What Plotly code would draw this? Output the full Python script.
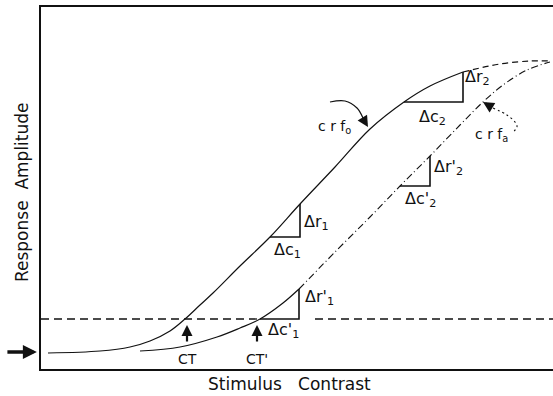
import plotly.graph_objects as go

# ---- data (arbitrary contrast / response units) ----
contrast_o = [7, 59, 89, 109, 129, 144, 159, 172, 199, 229, 259, 294, 329, 363, 389, 422, 459, 489, 509]
response_o = [16, 18, 22, 28, 38, 50, 64, 76, 103, 132, 165, 202, 240, 267, 283, 297, 305, 308, 308]
contrast_a = [99, 139, 176, 199, 219, 242, 258, 296, 329, 359, 389, 419, 442, 462, 486, 509]
response_a = [18, 22, 32, 41, 50, 66, 80, 119, 152, 183, 213, 244, 267, 284, 299, 307]
threshold = 50
baseline = 17
ct_values = [146, 216]
ct_labels = ["CT", "CT'"]

# increment triangles: start contrast, end contrast, start response, end response
tri_c0 = [229, 363, 219, 359]
tri_c1 = [259, 422, 258, 389]
tri_r0 = [132, 267, 50, 183]
tri_r1 = [165, 297, 80, 213]
dc_labels = ["Δc<sub>1</sub>", "Δc<sub>2</sub>", "Δc'<sub>1</sub>", "Δc'<sub>2</sub>"]
dr_labels = ["Δr<sub>1</sub>", "Δr<sub>2</sub>", "Δr'<sub>1</sub>", "Δr'<sub>2</sub>"]
dc_pos = [(246, 119), (391, 252), (242, 39), (379, 170)]
dr_pos = [(275, 147), (436, 292), (278, 72), (407, 202)]

FONT = "DejaVu Sans"
INK = "#111111"

fig = go.Figure()

# crf_o : solid lower part, dashed top
split_o = 16
fig.add_trace(go.Scatter(x=contrast_o[:split_o], y=response_o[:split_o], mode="lines",
                         line=dict(color=INK, width=1.2, shape="spline"), hoverinfo="skip"))
fig.add_trace(go.Scatter(x=contrast_o[split_o - 1:], y=response_o[split_o - 1:], mode="lines",
                         line=dict(color=INK, width=1.2, shape="spline", dash="6px,4px"), hoverinfo="skip"))
# crf_a : solid lower part, dash-dot upper part
split_a = 7
fig.add_trace(go.Scatter(x=contrast_a[:split_a], y=response_a[:split_a], mode="lines",
                         line=dict(color=INK, width=1.2, shape="spline"), hoverinfo="skip"))
fig.add_trace(go.Scatter(x=contrast_a[split_a - 1:], y=response_a[split_a - 1:], mode="lines",
                         line=dict(color=INK, width=1.1, shape="spline", dash="7px,3px,1px,3px"),
                         hoverinfo="skip"))

# threshold dashed line (interrupted by the Δc'1 triangle)
fig.add_trace(go.Scatter(x=[0, tri_c0[2], None, tri_c1[2] + 16, 512],
                         y=[threshold, threshold, None, threshold, threshold], mode="lines",
                         line=dict(color=INK, width=1.3, dash="8px,5px"), hoverinfo="skip"))

# triangles
for c0, c1, r0, r1 in zip(tri_c0, tri_c1, tri_r0, tri_r1):
    fig.add_trace(go.Scatter(x=[c0, c1, c1], y=[r0, r0, r1], mode="lines",
                             line=dict(color=INK, width=1.6), hoverinfo="skip"))

annotations = []
for (x, y), t in zip(dc_pos, dc_labels):
    annotations.append(dict(x=x, y=y, text=t, showarrow=False, font=dict(family=FONT, size=16, color=INK)))
for (x, y), t in zip(dr_pos, dr_labels):
    annotations.append(dict(x=x, y=y, text=t, showarrow=False, font=dict(family=FONT, size=16, color=INK)))

# CT arrows and labels
for c, lab in zip(ct_values, ct_labels):
    annotations.append(dict(x=c, y=threshold - 6, ax=c, ay=threshold - 24, axref="x", ayref="y",
                            showarrow=True, arrowhead=2, arrowsize=1, arrowwidth=2.2, arrowcolor=INK, text=""))
    annotations.append(dict(x=c, y=10, text=lab, showarrow=False, font=dict(family=FONT, size=14, color=INK)))

# baseline arrow on the left (outside the plotting area)
annotations.append(dict(xref="paper", x=-0.008, y=baseline, ax=-31, ay=0, showarrow=True,
                        arrowhead=2, arrowsize=0.8, arrowwidth=3.5, arrowcolor=INK, text=""))

# crf_o label with curved pointer
fig.add_trace(go.Scatter(x=[289, 304, 316, 322], y=[267, 268, 261, 251], mode="lines",
                         line=dict(color=INK, width=1.2, shape="spline"), hoverinfo="skip"))
annotations.append(dict(x=327, y=242, ax=321, ay=252, axref="x", ayref="y", showarrow=True,
                        arrowhead=2, arrowsize=1, arrowwidth=2.2, arrowcolor=INK, text=""))
annotations.append(dict(x=293, y=242, text="c r f<sub>o</sub>", showarrow=False,
                        font=dict(family=FONT, size=14, color=INK)))

# crf_a label with dotted pointer
fig.add_trace(go.Scatter(x=[452, 466, 474, 476, 471], y=[261, 254, 247, 242, 236], mode="lines",
                         line=dict(color=INK, width=1.1, shape="spline", dash="2px,3px"), hoverinfo="skip"))
annotations.append(dict(x=442, y=267, ax=452, ay=261, axref="x", ayref="y", showarrow=True,
                        arrowhead=2, arrowsize=1, arrowwidth=2.2, arrowcolor=INK, text=""))
annotations.append(dict(x=450, y=234, text="c r f<sub>a</sub>", showarrow=False,
                        font=dict(family=FONT, size=14, color=INK)))

# axis titles
annotations.append(dict(xref="paper", yref="paper", x=0.486, y=-0.041, text="Stimulus   Contrast",
                        showarrow=False, yanchor="middle", font=dict(family=FONT, size=17, color=INK)))
annotations.append(dict(xref="paper", yref="paper", x=-0.037, y=0.489, text="Response  Amplitude",
                        textangle=-90, showarrow=False, xanchor="center", yanchor="middle",
                        font=dict(family=FONT, size=17, color=INK)))

fig.update_layout(
    width=553, height=396, autosize=False,
    margin=dict(l=41, r=0, t=7, b=27),
    paper_bgcolor="white", plot_bgcolor="white",
    showlegend=False,
    annotations=annotations,
    xaxis=dict(range=[0, 512], showgrid=False, zeroline=False, showticklabels=False, ticks="",
               showline=True, mirror=True, linecolor=INK, linewidth=2),
    yaxis=dict(range=[0, 362], showgrid=False, zeroline=False, showticklabels=False, ticks="",
               showline=True, linecolor=INK, linewidth=2),
)

fig.write_html("out.html", config={"displayModeBar": False},
               post_script="document.body.style.margin='0';document.body.style.padding='0';")
